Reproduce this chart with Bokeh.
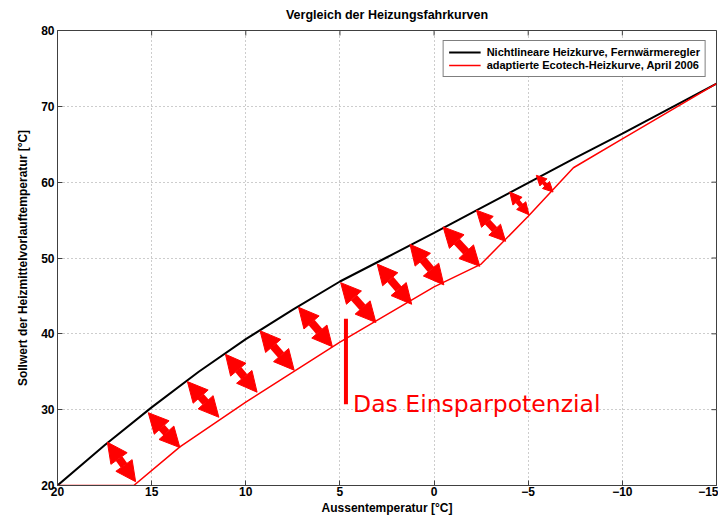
import math
from bokeh.plotting import figure
from bokeh.models import (Range1d, Arrow, NormalHead, ColumnDataSource, FixedTicker)
from bokeh.core.properties import value
from bokeh.embed import file_html
from bokeh.resources import INLINE

# ---- data -------------------------------------------------------------
x_ticks = [20, 15, 10, 5, 0, -5, -10, -15]
y_ticks = [20, 30, 40, 50, 60, 70, 80]

# Nichtlineare Heizkurve, Fernwärmeregler
black_t = [20, 17.5, 15, 12.5, 10, 7.5, 5, 2.5, 0, -2.5, -5, -7.5, -10, -12.5, -15]
black_v = [20, 25.3, 30.3, 35.0, 39.3, 43.2, 46.9, 50.1, 53.3, 56.6, 59.9, 63.2, 66.4, 69.7, 73.0]

# adaptierte Ecotech-Heizkurve, April 2006
red_t = [20, 15.95, 13.5, 10, 5, 0, -2.5, -5, -7.4, -10, -15]
red_v = [20, 20.0, 25.1, 31.0, 38.9, 46.2, 49.2, 55.5, 61.9, 65.7, 73.0]

# double arrows ("Einsparpotenzial")
arr_x_top = [17.35, 15.18, 13.1, 11.08, 9.24, 7.2, 4.96, 3.02, 1.28, -0.48, -2.25, -4.02, -5.43]
arr_y_top = [25.7, 29.6, 33.7, 37.3, 40.4, 43.5, 46.75, 49.2, 51.8, 54.1, 56.3, 58.7, 60.9]
arr_x_bot = [15.85, 13.5, 11.43, 9.4, 7.43, 5.4, 3.09, 1.19, -0.52, -2.43, -3.8, -5.04, -6.32]
arr_y_bot = [20.5, 25.0, 29.0, 32.3, 35.2, 38.3, 41.5, 43.9, 46.45, 48.9, 52.2, 55.7, 58.7]

# marker line + annotation text
mark_x = [4.68, 4.68]
mark_y = [30.7, 42.0]
note_x = [4.3]
note_y = [30.8]
note_text = ["Das Einsparpotenzial"]

title_text = "Vergleich der Heizungsfahrkurven"
x_label = "Aussentemperatur [°C]"
y_label = "Sollwert der Heizmittelvorlauftemperatur [°C]"
label_black = "Nichtlineare Heizkurve, Fernwärmeregler"
label_red = "adaptierte Ecotech-Heizkurve, April 2006"

# ---- figure -----------------------------------------------------------
FONT = "Liberation Sans"
AX = "#404040"
X0, X1 = x_ticks[0], x_ticks[-1]
Y0, Y1 = y_ticks[0], y_ticks[-1]

p = figure(width=718, height=517,
           x_range=Range1d(X0, X1), y_range=Range1d(Y0, Y1),
           output_backend="svg", toolbar_location=None,
           min_border_left=57, min_border_right=2,
           min_border_top=30, min_border_bottom=32,
           background_fill_color="white", border_fill_color="white")

p.title.text = title_text
p.title.align = "center"
p.title.vertical_align = "top"
p.title.text_font = FONT
p.title.text_font_size = "12.5px"
p.title.text_font_style = "bold"
p.title.text_color = "black"
p.title.standoff = 14

p.outline_line_color = AX
p.outline_line_width = 1


def style_axis(ax, ticks):
    ax.ticker = FixedTicker(ticks=ticks)
    ax.major_tick_in = 5
    ax.major_tick_out = 0
    ax.minor_tick_in = 0
    ax.minor_tick_out = 0
    ax.axis_line_color = AX
    ax.major_tick_line_color = AX
    ax.major_label_text_font = FONT
    ax.major_label_text_font_style = "bold"
    ax.major_label_text_color = "black"
    ax.major_label_text_font_size = "12px"
    ax.major_label_standoff = 1
    ax.axis_label_text_font = FONT
    ax.axis_label_text_font_size = "12px"
    ax.axis_label_text_font_style = "bold"
    ax.axis_label_text_color = "black"
    ax.axis_label_standoff = 2


style_axis(p.xaxis[0], x_ticks)
style_axis(p.yaxis[0], y_ticks)
p.yaxis[0].major_label_standoff = 3
p.yaxis[0].axis_label_standoff = 8
p.xaxis[0].axis_label = x_label
p.yaxis[0].axis_label = y_label

# inner tick marks on the top and right frame edges (box style)
p.ray(x=x_ticks, y=[Y1] * len(x_ticks), length=5, length_units="screen",
      angle=-math.pi / 2, line_color=AX, line_width=1)
p.ray(x=[X1] * len(y_ticks), y=y_ticks, length=5, length_units="screen",
      angle=math.pi, line_color=AX, line_width=1)

for g in (p.xgrid[0], p.ygrid[0]):
    g.grid_line_color = "#9a9a9a"
    g.grid_line_dash = "1 3"
    g.grid_line_width = 1
p.xgrid[0].ticker = FixedTicker(ticks=x_ticks)
p.ygrid[0].ticker = FixedTicker(ticks=y_ticks)

# curves
p.line(black_t, black_v, line_color="black", line_width=2, legend_label=label_black)
p.line(red_t, red_v, line_color="#ff0000", line_width=1.5, legend_label=label_red)

# arrows (size groups: first index, end index, head size, shaft width)
groups = [(0, 10, 20, 8), (10, 11, 16, 7), (11, 12, 12, 5), (12, 13, 10, 4)]
for a, b, hs, lw in groups:
    src = ColumnDataSource(dict(x0=arr_x_bot[a:b], y0=arr_y_bot[a:b],
                                x1=arr_x_top[a:b], y1=arr_y_top[a:b]))
    p.add_layout(Arrow(
        start=NormalHead(size=hs, fill_color="#ff0000", line_color="#ff0000", line_width=1),
        end=NormalHead(size=hs, fill_color="#ff0000", line_color="#ff0000", line_width=1),
        x_start="x0", y_start="y0", x_end="x1", y_end="y1",
        source=src, line_color="#ff0000", line_width=lw))

# marker and text
p.line(mark_x, mark_y, line_color="#ff0000", line_width=4)
p.text(x=note_x, y=note_y, text=note_text, text_font=value("DejaVu Sans"),
       text_font_size="23.5px", text_color="#ff0000", text_baseline="alphabetic",
       text_align="left")

# legend
lg = p.legend[0]
lg.location = "top_right"
lg.margin = 10
lg.padding = 5
lg.spacing = 1
lg.glyph_width = 32
lg.glyph_height = 12
lg.label_height = 12
lg.label_standoff = 6
lg.label_text_font = FONT
lg.label_text_font_size = "11px"
lg.label_text_font_style = "bold"
lg.label_text_color = "black"
lg.border_line_color = "black"
lg.border_line_width = 1
lg.background_fill_color = "white"
lg.background_fill_alpha = 1.0

open("out.html", "w").write(file_html(p, INLINE))
